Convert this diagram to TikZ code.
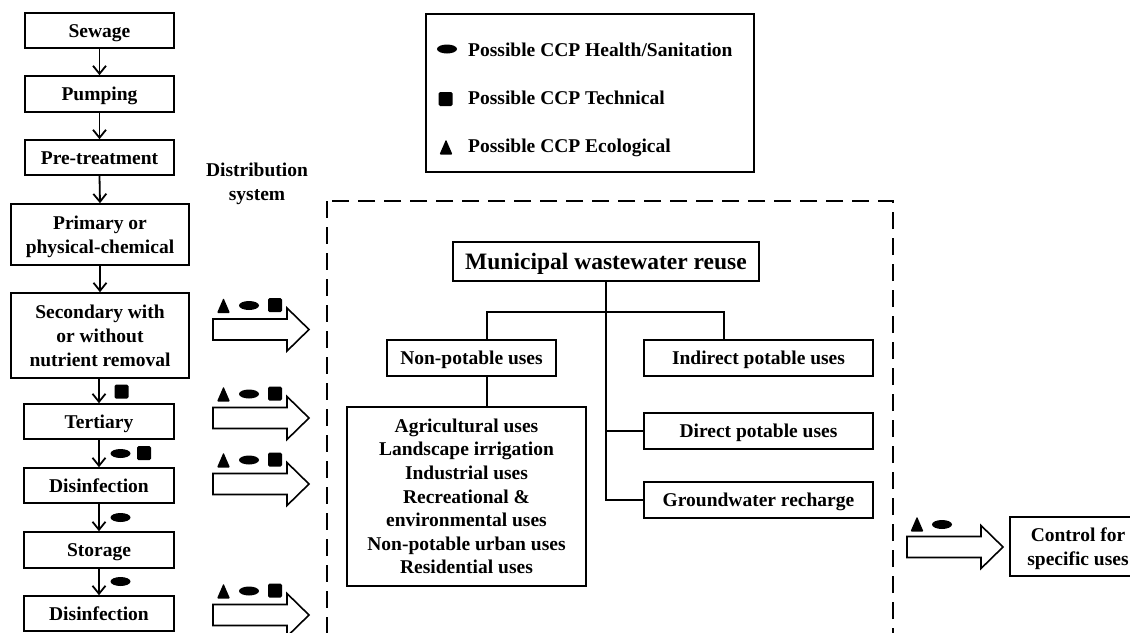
\documentclass[tikz,border=0pt]{standalone}
\usepackage{fontspec}
\setmainfont{Liberation Serif}
\usetikzlibrary{arrows.meta}
% even line box so that words with and without descenders sit alike
\newcommand{\linestrut}{\rule[-0.256em]{0pt}{1.19em}}
\begin{document}
\begin{tikzpicture}[x=1pt,y=-1pt,
  txtbase/.style={font=\bfseries\fontsize{19.5}{24}\selectfont, align=center, inner sep=0pt},
  txt/.style={txtbase, execute at begin node=\linestrut, execute at end node=\linestrut},
  box/.style={txt, draw, line width=1.6pt, rectangle, minimum width=#1},
  box/.default=150pt,
  mbox/.style={txtbase, draw, line width=1.6pt, rectangle, minimum width=#1},
  mbox/.default=150pt,
  flow/.style={line width=1.8pt, -{Straight Barb[length=8pt,width=13pt,line width=1.8pt]}},
  tree/.style={line width=1.8pt},
  distbox/.style={line width=2pt, dash pattern=on 17pt off 9pt},
  ccpell/.pic={\fill (0,0) ellipse [x radius=10, y radius=4.5];},
  ccpsq/.pic={\fill[rounded corners=1.5pt] (-7,-7) rectangle (7,7);},
  ccptri/.pic={\fill[rounded corners=1pt] (-6.5,7.5) -- (6.5,7.5) -- (0,-7.5) -- cycle;},
  blockarrow/.pic={\draw[line width=1.6pt, fill=white, line join=miter]
      (0,-10.5) -- (74,-10.5) -- (74,-21.5) -- (96,0) -- (74,21.5) -- (74,10.5) -- (0,10.5) -- cycle;},
]
\useasboundingbox (0,0) rectangle (1130,632);

% treatment train
\node[box=149pt, minimum height=35pt] (sew)  at (99.5,30.5)  {Sewage};
\node[box=149pt, minimum height=36pt] (pump) at (99.5,94)    {Pumping};
\node[box=149pt, minimum height=35pt] (pre)  at (99.5,157.5) {Pre-treatment};
\node[mbox=178pt, minimum height=61pt] (prim) at (100,234.5)  {\linestrut Primary or\\physical-chemical\linestrut};
\node[mbox=178pt, minimum height=85pt] (sec)  at (100,335.5)  {\linestrut Secondary with\\or without\\nutrient removal\linestrut};
\node[box=150pt, minimum height=35pt] (ter)  at (99,421.5)   {Tertiary};
\node[box=150pt, minimum height=35pt] (dis1) at (99,485.5)   {Disinfection};
\node[box=150pt, minimum height=36pt] (sto)  at (99,550)     {Storage};
\node[box=150pt, minimum height=35pt] (dis2) at (99,613.5)   {Disinfection};

\draw[flow] (sew.south)  -- (pump.north);
\draw[flow] (pump.south) -- (pre.north);
\draw[flow] (pre.south)  -- (prim.north);
\draw[flow] (prim.south) -- (sec.north);
\draw[flow] (sec.south -| ter.north) -- (ter.north);
\draw[flow] (ter.south)  -- (dis1.north);
\draw[flow] (dis1.south) -- (sto.north);
\draw[flow] (sto.south)  -- (dis2.north);

% CCP marks along the train
\pic at (121.5,391.5) {ccpsq};
\pic at (120.5,453.5) {ccpell};
\pic at (144,453)     {ccpsq};
\pic at (120.5,517.5) {ccpell};
\pic at (120.5,581.5) {ccpell};

% hand-over arrows to the distribution system
\foreach \yy in {329.5,418,484,615}{
  \pic at (213,\yy) {blockarrow};
  \pic at (223.5,\yy-24) {ccptri};
  \pic at (249,\yy-24)   {ccpell};
  \pic at (275,\yy-24.5) {ccpsq};
}

\node[txtbase] (dist) at (257,181.5) {\linestrut Distribution\\system\linestrut};

% legend
\node[draw, line width=1.6pt, minimum width=328pt, minimum height=158pt, inner sep=0pt] (legend) at (590,93) {};
\pic at (447,49)    {ccpell};
\pic at (445.5,99)  {ccpsq};
\pic at (446,147)   {ccptri};
\node[txt, anchor=west] (lg1) at (468,50)  {Possible CCP Health/Sanitation};
\node[txt, anchor=west] (lg2) at (468,98)  {Possible CCP Technical};
\node[txt, anchor=west] (lg3) at (468,146) {Possible CCP Ecological};

% distribution system
\draw[distbox] (327,201) rectangle (893,660);

\node[box=306pt, minimum height=39pt, font=\bfseries\fontsize{23.5}{28}\selectfont] (mun) at (606,261.5) {Municipal wastewater reuse};
\node[box=169pt, minimum height=36pt] (np)  at (471.5,358) {Non-potable uses};
\node[box=229pt, minimum height=36pt] (ind) at (758.5,358) {Indirect potable uses};
\node[box=229pt, minimum height=36pt] (dir) at (758.5,431) {Direct potable uses};
\node[box=229pt, minimum height=36pt] (gw)  at (758.5,500) {Groundwater recharge};
\node[mbox=239pt, minimum height=179pt, font=\bfseries\fontsize{19.5}{23.6}\selectfont] (lst) at (466.5,496.5)
  {\linestrut Agricultural uses\\Landscape irrigation\\Industrial uses\\Recreational \&\\environmental uses\\Non-potable urban uses\\Residential uses\linestrut};

\coordinate (jl) at (487,312);
\coordinate (jr) at (724,312);
\draw[tree] (mun.south) -- (mun.south |- gw.west) -- (gw.west);
\draw[tree] (mun.south |- dir.west) -- (dir.west);
\draw[tree] (jl |- np.north) -- (jl) -- (jr) -- (jr |- ind.north);
\draw[tree] (jl |- np.south) -- (jl |- lst.north);

% control for specific uses
\pic at (907,547) {blockarrow};
\pic at (917,524) {ccptri};
\pic at (942,524.5) {ccpell};
\node[mbox=136pt, minimum height=59pt] (ctrl) at (1078,546.5) {\linestrut Control for\\specific uses\linestrut};

\end{tikzpicture}
\end{document}
